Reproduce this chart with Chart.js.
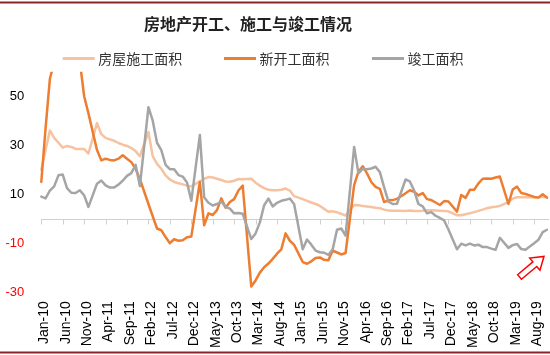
<!DOCTYPE html>
<html><head><meta charset="utf-8">
<script src="https://cdn.jsdelivr.net/npm/chart.js@4"></script>
<style>html,body{margin:0;padding:0;background:#fff;}canvas{display:block;}</style>
</head><body>
<canvas id="c" width="550" height="355"></canvas>
<script>
const chartTitle = '房地产开工、施工与竣工情况';
const seriesNames = ['房屋施工面积', '新开工面积', '竣工面积'];
const categories = [
'Jan-10','Feb-10','Mar-10','Apr-10','May-10','Jun-10','Jul-10','Aug-10','Sep-10','Oct-10','Nov-10','Dec-10',
'Jan-11','Feb-11','Mar-11','Apr-11','May-11','Jun-11','Jul-11','Aug-11','Sep-11','Oct-11','Nov-11','Dec-11',
'Jan-12','Feb-12','Mar-12','Apr-12','May-12','Jun-12','Jul-12','Aug-12','Sep-12','Oct-12','Nov-12','Dec-12',
'Jan-13','Feb-13','Mar-13','Apr-13','May-13','Jun-13','Jul-13','Aug-13','Sep-13','Oct-13','Nov-13','Dec-13',
'Jan-14','Feb-14','Mar-14','Apr-14','May-14','Jun-14','Jul-14','Aug-14','Sep-14','Oct-14','Nov-14','Dec-14',
'Jan-15','Feb-15','Mar-15','Apr-15','May-15','Jun-15','Jul-15','Aug-15','Sep-15','Oct-15','Nov-15','Dec-15',
'Jan-16','Feb-16','Mar-16','Apr-16','May-16','Jun-16','Jul-16','Aug-16','Sep-16','Oct-16','Nov-16','Dec-16',
'Jan-17','Feb-17','Mar-17','Apr-17','May-17','Jun-17','Jul-17','Aug-17','Sep-17','Oct-17','Nov-17','Dec-17',
'Jan-18','Feb-18','Mar-18','Apr-18','May-18','Jun-18','Jul-18','Aug-18','Sep-18','Oct-18','Nov-18','Dec-18',
'Jan-19','Feb-19','Mar-19','Apr-19','May-19','Jun-19','Jul-19','Aug-19','Sep-19','Oct-19','Nov-19'
];
const tickLabels = ['Jan-10','Jun-10','Nov-10','Apr-11','Sep-11','Feb-12','Jul-12','Dec-12','May-13','Oct-13',
'Mar-14','Aug-14','Jan-15','Jun-15','Nov-15','Apr-16','Sep-16','Feb-17','Jul-17','Dec-17','May-18','Oct-18','Mar-19','Aug-19'];
const yTicks = [-30, -10, 10, 30, 50];

// 房屋施工面积 (%)
const underConstruction = [
20, 28, 36, 33, 31, 29, 29.7, 29.3, 28.5, 28.5, 28.4, 26.6,
null, 39, 34.5, 33, 32.4, 31.8, 30.9, 30.2, 29.7, 28.8, 27.6, 25.5,
null, 35.4, 25.5, 22.4, 20.4, 17.7, 16, 15, 14.5, 14, 13.5, 13.2,
null, 15.2, 16.3, 17, 16.8, 16.3, 15.8, 15.2, 15.1, 15.5, 16.2, 16.1,
null, 16.3, 14.7, 13.5, 12.5, 11.8, 11.6, 11.6, 11.8, 12.3, 11.5, 9.2,
null, 8, 7.3, 6.6, 6, 5.2, 4, 2.8, 3, 2.6, 2, 1.3,
null, 5.6, 5.5, 5.2, 5, 4.8, 4.5, 4.3, 3.7, 3.3, 3.2, 3.2,
null, 3.1, 3.3, 3.1, 3.1, 3.2, 3.4, 3.4, 3.3, 3.2, 3.1, 3.0,
null, 1.4, 1.4, 1.8, 2.2, 2.7, 3.2, 3.7, 4.3, 4.7, 4.9, 5.2,
null, 6.8, 8.2, 8.8, 8.8, 8.8, 8.8, 8.8, 8.7, 9.0, 8.7
];
// 新开工面积 (%)
const newStarts = [
15, 37, 57, 64, 68, 72, 70, 73, 70, 64, 50, 43,
null, 28, 23.8, 24.5, 24, 23.8, 24.5, 25.9, 24.5, 23.1, 20.4, 16.2,
null, 6, 1, -4, -4.7, -7.5, -10, -8.4, -9, -8.8, -7.6, -7.3,
null, 15, -2.7, 2.2, 1.5, 3.5, 8.3, 4.5, 6.8, 8, 11.5, 13.5,
null, -27.7, -25.2, -22, -19.8, -18.3, -16.4, -14.3, -12.5, -6, -9, -10.7,
null, -17.7, -18.4, -17.4, -16, -15.8, -16.8, -17, -13, -13.8, -14.6, -14,
null, 13.7, 19.2, 21.4, 18.5, 15, 13, 12.2, 6.8, 7.5, 7.6, 8.1,
null, 10.4, 11.6, 11, 9.5, 10.5, 8, 7.6, 6.6, 5.6, 7.2, 7,
null, 2.9, 9.7, 8.5, 11.8, 11.8, 14.4, 16.3, 16.4, 16.3, 16.8, 17.2,
null, 6, 11.9, 13.1, 10.5, 10.1, 9.5, 8.9, 8.6, 10, 8.6
];
// 竣工面积 (%)
const completed = [
9, 8.3, 11.5, 13.2, 17.7, 18, 12.5, 10.6, 10.5, 11.6, 9.5, 4.8,
null, 14.3, 15.6, 13.6, 12.7, 12.7, 13.9, 15.5, 17.5, 18.6, 22, 13.3,
null, 45.5, 40, 31, 28, 22, 20.2, 20.2, 17.8, 17.2, 14.8, 7.3,
null, 34.2, 8.8, 6.5, 5.4, 6, 7, 4.8, 4.1, 2.2, 2.3, 2,
null, -8.3, -6, -1.5, 5.5, 8.2, 5, 6.5, 7.3, 7.7, 8.2, 5.9,
null, -12.5, -8.5, -10.6, -13, -13.7, -13.9, -14.8, -12.5, -4.5, -4, -6.9,
null, 29.3, 18.5, 20.3, 20.2, 20.5, 21.2, 19, 12.8, 7, 6, 6.1,
null, 16, 15.2, 11.5, 6, 5, 2.2, 2.7, 1.2, 0.3, -0.7, -4.4,
null, -12.5, -10.2, -10.9, -10.2, -10.9, -10.6, -11.6, -11.6, -12.2, -12.7, -7.8,
null, -11.9, -10.8, -10.3, -12.4, -12.7, -11.3, -10, -8.6, -5.5, -4.5
];

const colors = ['#F6C2A0', '#ED7D31', '#A5A5A5'];

const decor = {
  id: 'decor',
  beforeDraw(chart) {
    const c = chart.ctx;
    c.save();
    c.fillStyle = '#ffffff';
    c.fillRect(0, 0, chart.width, chart.height);
    c.fillStyle = '#8B2525';
    c.fillRect(0, 1.5, chart.width, 2);
    c.fillRect(0, 351.5, chart.width, 2);
    c.fillStyle = '#222222';
    c.font = 'bold 16px "Noto Sans CJK SC", sans-serif';
    c.textAlign = 'center';
    c.textBaseline = 'middle';
    c.fillText(chartTitle, 248, 23.5);
    const xs = [62.7, 224, 372];
    c.font = '14px "Noto Sans CJK SC", sans-serif';
    c.textAlign = 'left';
    chart.data.datasets.forEach((ds, k) => {
      c.strokeStyle = ds.borderColor;
      c.lineWidth = 3;
      c.beginPath();
      c.moveTo(xs[k], 58.5);
      c.lineTo(xs[k] + 32, 58.5);
      c.stroke();
      c.fillStyle = '#333333';
      c.fillText(ds.label, xs[k] + 35.5, 58.5);
    });
    c.restore();
  },
  beforeDatasetsDraw(chart) {
    const c = chart.ctx, xs = chart.scales.x, ys = chart.scales.y, a = chart.chartArea;
    const y0 = Math.round(ys.getPixelForValue(0)) + 0.5;
    c.save();
    c.strokeStyle = '#D0D0D0';
    c.lineWidth = 1;
    c.beginPath();
    c.moveTo(a.left, y0);
    c.lineTo(a.right + 2, y0);
    tickLabels.forEach(l => {
      const x = Math.round(xs.getPixelForValue(categories.indexOf(l))) + 0.5;
      c.moveTo(x, y0);
      c.lineTo(x, y0 + 5);
    });
    c.stroke();
    c.restore();
  },
  afterDraw(chart) {
    const c = chart.ctx;
    c.save();
    c.translate(519.5, 277);
    c.rotate(Math.atan2(-21, 25));
    c.beginPath();
    c.moveTo(0, -3); c.lineTo(20, -3); c.lineTo(20, -8); c.lineTo(32, 0);
    c.lineTo(20, 8); c.lineTo(20, 3); c.lineTo(0, 3); c.closePath();
    c.fillStyle = '#ffffff';
    c.fill();
    c.strokeStyle = '#FF0000';
    c.lineWidth = 1.5;
    c.stroke();
    c.restore();
  }
};

new Chart(document.getElementById('c'), {
  type: 'line',
  data: {
    labels: categories,
    datasets: [
      { label: seriesNames[0], data: underConstruction, borderColor: colors[0], backgroundColor: colors[0], order: 2 },
      { label: seriesNames[1], data: newStarts, borderColor: colors[1], backgroundColor: colors[1], order: 1 },
      { label: seriesNames[2], data: completed, borderColor: colors[2], backgroundColor: colors[2], order: 0 }
    ]
  },
  options: {
    responsive: false,
    animation: false,
    devicePixelRatio: 1,
    spanGaps: true,
    layout: { padding: { top: 71.7, right: 3, bottom: 0, left: 0 } },
    plugins: { legend: { display: false }, title: { display: false }, tooltip: { enabled: false } },
    elements: { point: { radius: 0 }, line: { tension: 0, borderWidth: 2.5, borderJoinStyle: 'round', borderCapStyle: 'round' } },
    scales: {
      x: {
        type: 'category', offset: false,
        grid: { display: false, drawTicks: false }, border: { display: false },
        ticks: {
          autoSkip: false, maxRotation: 90, minRotation: 90, padding: 9, labelOffset: 3,
          color: '#000000', font: { family: '"Liberation Sans", Arial, sans-serif', size: 14 },
          callback: function (v, i) { const l = categories[i]; return tickLabels.includes(l) ? l : ''; }
        },
        afterFit(s) { s.height = 62.8; s.paddingLeft = 0; s.paddingRight = 0; s.paddingTop = 0; s.paddingBottom = 0; }
      },
      y: {
        min: -30, max: 60,
        grid: { display: false, drawTicks: false }, border: { display: false },
        afterBuildTicks(s) { s.ticks = yTicks.map(v => ({ value: v })); },
        ticks: {
          padding: 17,
          color: (ctx) => (ctx.tick && ctx.tick.value < 0 ? '#FF0000' : '#000000'),
          font: { family: '"Liberation Sans", Arial, sans-serif', size: 13 }
        },
        afterFit(s) { s.width = 41.3; s.paddingTop = 0; s.paddingBottom = 0; }
      }
    }
  },
  plugins: [decor]
});
</script>
</body></html>
